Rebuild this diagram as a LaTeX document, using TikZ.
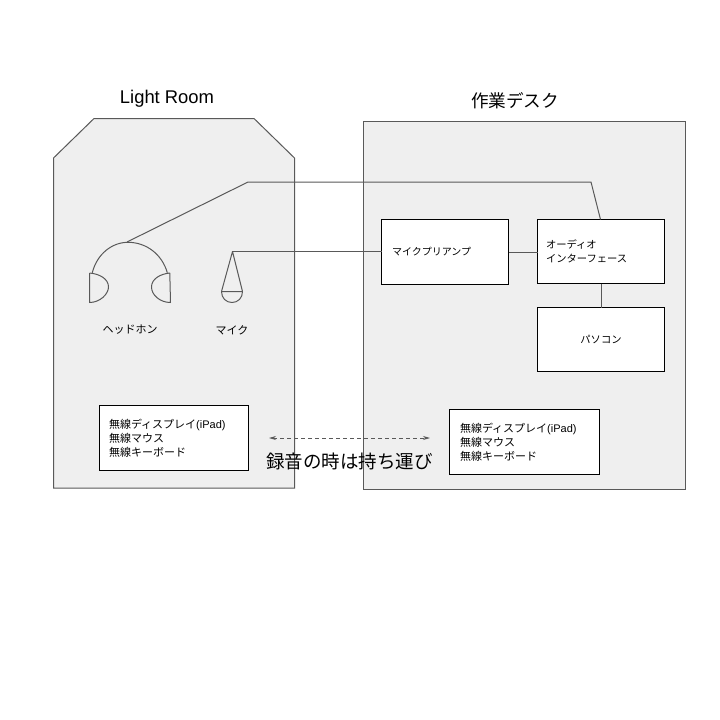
\documentclass[tikz,border=0pt]{standalone}
\usepackage{fontspec}
\setmainfont{Noto Sans CJK JP}
\newfontfamily\latinfont{Liberation Sans}
\usetikzlibrary{arrows.meta}
\definecolor{panelfill}{HTML}{EFEFEF}
\definecolor{linegray}{HTML}{595959}
\tikzset{
  x=1pt,y=-1pt,
  panel/.style={draw=linegray,fill=panelfill,line width=1pt},
  wire/.style={draw=linegray,line width=1pt,line join=round},
  whitebox/.style={draw=black,fill=white,line width=1pt,outer sep=0pt,anchor=north west,inner ysep=0pt,align=left,font=\fontsize{11}{14}\selectfont},
  katabox/.style={whitebox,font=\fontsize{10.3}{14}\selectfont},
  smalllabel/.style={font=\fontsize{11}{14}\selectfont,inner sep=0pt},
  biglabel/.style={font=\fontsize{18.5}{22}\selectfont,inner sep=0pt},
}
\begin{document}
\begin{tikzpicture}
\useasboundingbox (0,0) rectangle (720,720);
\fill[white] (0,0) rectangle (720,720);
% panels
\draw[panel] (53.5,158) -- (94,118.5) -- (254,118.5) -- (294.5,158) -- (294.5,488) -- (53.5,488) -- cycle;
\node[panel,outer sep=0pt,anchor=north west,minimum width=322pt,minimum height=368pt,inner sep=0pt] (desk) at (363.5,121.5) {};
% titles
\node[biglabel,font=\latinfont\fontsize{18.4}{22}\selectfont] (lr) at (167,98.5) {Light Room};
\node[biglabel,font=\fontsize{17.6}{22}\selectfont] (dk) at (515,100.5) {作業デスク};
% boxes
\node[katabox,font=\fontsize{10}{14}\selectfont,minimum width=127pt,minimum height=65pt,inner xsep=10.5pt,text width=106pt] (preamp) at (381.5,219.5) {マイクプリアンプ};
\node[katabox,minimum width=127pt,minimum height=64pt,inner xsep=8.5pt,text width=110pt] (audio) at (537.5,219.5) {オーディオ\\インターフェース};
\node[katabox,minimum width=127pt,minimum height=64pt,inner xsep=0pt,align=center] (pc) at (537.5,307.5) {パソコン};
\node[whitebox,minimum width=149pt,minimum height=65pt,inner xsep=9.5pt,text width=130pt] (wl) at (99.5,405.5) {無線ディスプレイ{\latinfont(iPad)}\\無線マウス\\無線キーボード};
\node[whitebox,minimum width=150pt,minimum height=65pt,inner xsep=10.5pt,text width=129pt] (wr) at (449.5,409.5) {無線ディスプレイ{\latinfont(iPad)}\\無線マウス\\無線キーボード};
% headphones
\coordinate (hptop) at (127,242);
\coordinate (hpbend) at (248,182);
\coordinate (aibend) at (591,182);
\coordinate (aiin) at (600.5,219.5);
\coordinate (micapex) at (232.5,251.5);
\draw[wire] (92.3,272.7) .. controls (97,254) and (112,242.3) .. (128,242.3) .. controls (146,242.3) and (162,254) .. (167.3,272.7);
\draw[wire] (89.7,273) -- (89.5,302.5) .. controls (100,302.5) and (108.5,294) .. (108.5,287) .. controls (108.5,279) and (100,274) .. (89.7,273);
\draw[wire] (169.8,273) -- (170.5,302.5) .. controls (160,302.5) and (151.5,295) .. (151.5,287) .. controls (151.5,279) and (160,274) .. (169.8,273);
% microphone
\draw[wire] (micapex) -- (221.5,291.5) -- (242.5,291.5) -- cycle;
\draw[wire] (221.5,291.5) .. controls (221.5,298) and (226,302.5) .. (232,302.5) .. controls (238,302.5) and (242.5,298) .. (242.5,291.5);
% connectors
\draw[wire] (hptop) -- (hpbend) -- (aibend) -- (aiin);
\draw[wire] (micapex) -- (micapex -| preamp.west);
\draw[wire] (preamp.east) -- (preamp.east -| audio.west);
\draw[wire] (audio.south) -- (pc.north);
% labels
\node[smalllabel] (hplabel) at (130,330) {ヘッドホン};
\node[smalllabel] (miclabel) at (232,330) {マイク};
% carry arrow
\coordinate (carryl) at (269,438);
\coordinate (carryr) at (430,438);
\draw[draw=linegray,line width=0.75pt,dash pattern=on 4pt off 3pt,{Stealth[length=7pt,width=4pt]}-{Stealth[length=7pt,width=4pt]}] (carryl) -- (carryr);
\node[biglabel] (carry) at (349.5,461) {録音の時は持ち運び};
\end{tikzpicture}
\end{document}
